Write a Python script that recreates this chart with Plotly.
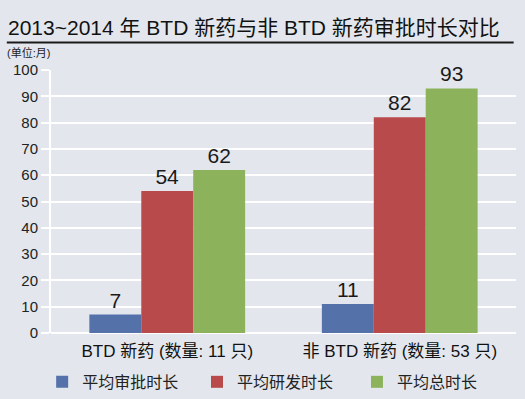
import plotly.graph_objects as go

categories = ["BTD 新药 (数量: 11 只)", "非 BTD 新药 (数量: 53 只)"]
series_names = ["平均审批时长", "平均研发时长", "平均总时长"]
approval = [7, 11]
research = [54, 82]
total = [62, 93]
colors = ["#5471aa", "#b84a4b", "#8cb35c"]
y_ticks = [0, 10, 20, 30, 40, 50, 60, 70, 80, 90, 100]

FONT = "Liberation Sans, Noto Sans CJK SC, sans-serif"
legend_ids = ["legend", "legend2", "legend3"]
legend_x = [-0.019, 0.314, 0.658]

fig = go.Figure()
for name, vals, col, lid in zip(series_names, [approval, research, total], colors, legend_ids):
    fig.add_trace(go.Bar(
        x=categories, y=vals, name=name, marker=dict(color=col, line=dict(width=0)),
        text=[str(v) for v in vals], textposition="outside",
        textfont=dict(size=21, color="#1a1a1a", family=FONT), cliponaxis=False,
        legend=lid,
    ))

legend_common = dict(orientation="h", xanchor="left", y=-0.186, yanchor="middle",
                     font=dict(size=16, color="#222"), itemwidth=30,
                     bgcolor="rgba(0,0,0,0)")

fig.update_layout(
    width=525, height=399,
    margin=dict(l=51, r=9, t=70, b=66, autoexpand=False),
    paper_bgcolor="#e3e7ed", plot_bgcolor="#e3e7ed",
    barmode="group", bargap=0.33, bargroupgap=0,
    font=dict(family=FONT, color="#1a1a1a"),
    showlegend=True,
    legend=dict(x=legend_x[0], **legend_common),
    legend2=dict(x=legend_x[1], **legend_common),
    legend3=dict(x=legend_x[2], **legend_common),
    xaxis=dict(tickfont=dict(size=17, color="#111"), showgrid=False, showline=False,
               ticks="", range=[-0.5, 1.5], automargin=False, ticklabelstandoff=6),
    yaxis=dict(range=[0, 100], tickvals=y_ticks, tickfont=dict(size=15, color="#222"),
               gridcolor="#ffffff", gridwidth=2, zeroline=True, zerolinecolor="#ffffff",
               zerolinewidth=2, showline=True, linecolor="#ffffff", linewidth=2,
               ticks="outside", tickcolor="#ffffff", ticklen=8, tickwidth=2,
               automargin=False),
)

fig.add_annotation(text="2013~2014 年 BTD 新药与非 BTD 新药审批时长对比", xref="paper", yref="paper",
                   x=-0.097, y=1.163, xanchor="left", yanchor="middle", showarrow=False,
                   font=dict(size=21, color="#111", family=FONT))
fig.add_annotation(text="(单位:月)", xref="paper", yref="paper",
                   x=-0.1, y=1.065, xanchor="left", yanchor="middle", showarrow=False,
                   font=dict(size=11, color="#222", family=FONT))
fig.add_shape(type="line", xref="paper", yref="paper", x0=-0.095, x1=0.995, y0=1.105, y1=1.105,
              line=dict(color="#1a1a1a", width=2))

fig.write_html("out.html", config={"displayModeBar": False},
               post_script="document.body.style.margin='0';document.body.style.background='#e3e7ed';")
